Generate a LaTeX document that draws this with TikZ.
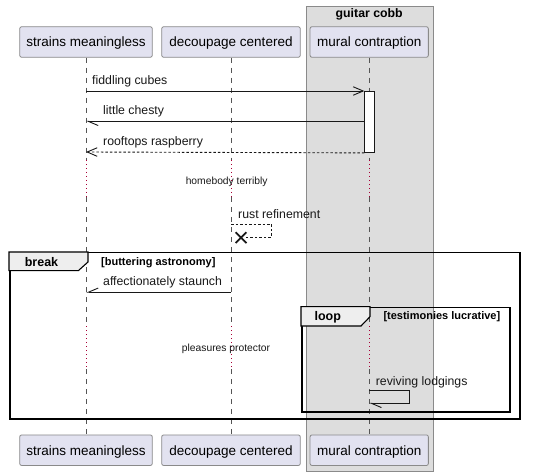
\documentclass[tikz,border=0pt]{standalone}
\usepackage{fontspec}
\setmainfont{Liberation Sans}
\usetikzlibrary{arrows.meta,shapes.misc}
\definecolor{partfill}{HTML}{E2E2F0}
\definecolor{partdraw}{HTML}{8A8A8A}
\definecolor{grpfill}{HTML}{DDDDDD}
\definecolor{grpdraw}{HTML}{8A8A8A}
\definecolor{tabfill}{HTML}{EEEEEE}
\definecolor{lifec}{HTML}{555555}
\definecolor{delayc}{HTML}{A80036}
\definecolor{ink}{HTML}{181818}
\tikzset{
  part/.style={draw=partdraw, fill=partfill, rounded corners=2pt, minimum height=30.6pt, inner sep=0pt,
    font=\fontsize{13.5}{16}\selectfont, text height=10pt, text depth=0pt, line width=0.8pt},
  life/.style={draw=lifec, line width=0.7pt, dash pattern=on 5pt off 5pt},
  delay/.style={draw=delayc, line width=0.9pt, dash pattern=on 1pt off 3pt},
  msg/.style={draw=ink, line width=0.9pt},
  retmsg/.style={draw=ink, line width=0.9pt, dash pattern=on 2.5pt off 2pt},
  lbl/.style={font=\fontsize{12.3}{14}\selectfont, inner sep=0pt, anchor=base west, text=ink},
  dlbl/.style={font=\fontsize{10.3}{12}\selectfont, inner sep=0pt, anchor=base, text=ink},
  fullhead/.style={-{Straight Barb[length=10pt,width=8.5pt]}},
  lowhead/.style={-{Straight Barb[left,length=10pt,width=8.5pt]}},
  uphead/.style={-{Straight Barb[right,length=10pt,width=8.5pt]}},
  frameline/.style={draw=black, line width=1.5pt},
  tabshape/.style={draw=black, line width=1.1pt, fill=tabfill},
  kw/.style={font=\bfseries\fontsize{12.5}{14}\selectfont, inner sep=0pt, anchor=base},
  guard/.style={font=\bfseries\fontsize{11}{13}\selectfont, inner sep=0pt, anchor=base west},
}
\begin{document}
\begin{tikzpicture}[x=1pt,y=-1pt]
\useasboundingbox (0,0) rectangle (547,476);
% group box
\node[draw=grpdraw, fill=grpfill, line width=0.8pt, minimum width=126.5pt, minimum height=465pt, inner sep=0pt, anchor=north west] (grp) at (306,6) {};
\node[font=\bfseries\fontsize{12.3}{14}\selectfont, inner sep=0pt, anchor=base] (grpt) at (369.2,17.5) {guitar cobb};
% participants
\node[part, minimum width=132.6pt] (s1) at (86,42) {strains meaningless};
\node[part, minimum width=138.6pt] (d1) at (231,42) {decoupage centered};
\node[part, minimum width=118.3pt] (m1) at (369.2,42) {mural contraption};
\node[part, minimum width=132.6pt] (s2) at (86,450.2) {strains meaningless};
\node[part, minimum width=138.6pt] (d2) at (231,450.2) {decoupage centered};
\node[part, minimum width=118.3pt] (m2) at (369.2,450.2) {mural contraption};
% lifeline coordinates
\foreach \n/\x in {s/86, d/231, m/369.2}{
  \coordinate (\n a) at (\x,160);
  \coordinate (\n b) at (\x,197);
  \coordinate (\n c) at (\x,326);
  \coordinate (\n d) at (\x,369);
}
\foreach \n in {s,d,m}{
  \draw[life] (\n1.south) -- (\n a);
  \draw[delay] (\n a) -- (\n b);
  \draw[life] (\n b) -- (\n c);
  \draw[delay] (\n c) -- (\n d);
  \draw[life] (\n d) -- (\n2.north);
}
% activation
\node[draw=ink, fill=white, line width=0.9pt, minimum width=9.7pt, minimum height=61pt, inner sep=0pt, anchor=north west] (act) at (364.3,91) {};
% messages
\coordinate (m1s) at (86,91);
\draw[msg, fullhead] (m1s) -- (m1s -| act.west);
\node[lbl] (l1) at (92,84.5) {fiddling cubes};
\coordinate (m2s) at (86,121.3);
\draw[msg, lowhead] (m2s -| act.west) -- (m2s);
\node[lbl] (l2) at (103,114.5) {little chesty};
\coordinate (m3s) at (86,152);
\draw[retmsg, fullhead] (act.south west) -- (m3s);
\node[lbl] (l3) at (103,145.5) {rooftops raspberry};
% delay 1
\node[dlbl] (dl1) at (226.7,184.5) {homebody terribly};
% self message with destroy
\coordinate (r1) at (231,224);
\coordinate (r2) at (271,224);
\coordinate (r3) at (271,237.7);
\node[cross out, draw=ink, line width=1.8pt, minimum size=9pt, inner sep=0pt] (xd) at (241,237.7) {};
\draw[retmsg] (r1) -- (r2) -- (r3) -- (xd.east);
\node[lbl] (l4) at (238,218.5) {rust refinement};
% break frame
\node[frameline, minimum width=510pt, minimum height=166.3pt, inner sep=0pt, anchor=north west] (brk) at (9,252) {};
\draw[tabshape] (9,252) -- (88,252) -- (88,262) -- (78.3,270.7) -- (9,270.7) -- cycle;
\node[kw] (brkk) at (41.5,266.5) {break};
\node[guard] (brkg) at (101,265.5) {[buttering astronomy]};
% message in break
\coordinate (m5s) at (86,292.3);
\draw[msg, uphead] (m5s -| d1) -- (m5s);
\node[lbl] (l5) at (103,285.5) {affectionately staunch};
% loop frame
\node[frameline, minimum width=208.3pt, minimum height=104.3pt, inner sep=0pt, anchor=north west] (lp) at (301,306.7) {};
\draw[tabshape] (301,306.7) -- (370,306.7) -- (370,316.7) -- (361,326) -- (301,326) -- cycle;
\node[kw] (lpk) at (327.8,320.5) {loop};
\node[guard] (lpg) at (383.3,319.5) {[testimonies lucrative]};
% delay 2
\node[dlbl] (dl2) at (226,351) {pleasures protector};
% self message reviving
\coordinate (v1) at (369.2,390);
\coordinate (v2) at (409.3,390);
\coordinate (v3) at (409.3,403.3);
\coordinate (v4) at (369.2,403.3);
\draw[msg, lowhead] (v1) -- (v2) -- (v3) -- (v4);
\node[lbl] (l6) at (375.7,385) {reviving lodgings};
\end{tikzpicture}
\end{document}
